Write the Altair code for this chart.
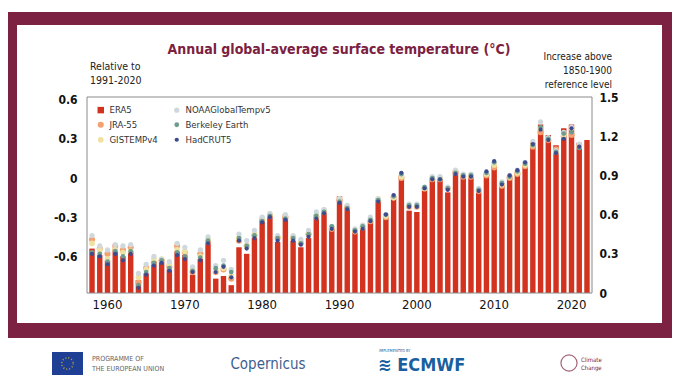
import altair as alt
import pandas as pd

# ---------------- data ----------------
years = list(range(1958, 2023))
era5 = [-0.54, -0.59, -0.63, -0.54, -0.60, -0.56, -0.78, -0.73, -0.64, -0.64,
        -0.70, -0.56, -0.59, -0.74, -0.62, -0.50, -0.77, -0.75, -0.82, -0.53,
        -0.58, -0.46, -0.31, -0.28, -0.49, -0.28, -0.48, -0.53, -0.46, -0.28,
        -0.25, -0.39, -0.14, -0.21, -0.42, -0.39, -0.34, -0.16, -0.31, -0.16,
        0.02, -0.25, -0.26, -0.09, 0.00, -0.01, -0.11, 0.06, 0.02, 0.02,
        -0.11, 0.04, 0.10, -0.04, 0.02, 0.05, 0.10, 0.27, 0.41, 0.33,
        0.25, 0.38, 0.41, 0.27, 0.29]
jra55 = [-0.47, -0.54, -0.58, -0.52, -0.55, -0.53, -0.80, -0.69, -0.65, -0.63,
         -0.68, -0.52, -0.57, -0.72, -0.58, -0.49, -0.72, -0.70, -0.77, -0.48,
         -0.52, -0.44, -0.32, -0.29, -0.46, -0.30, -0.46, -0.50, -0.43, -0.30,
         -0.26, -0.39, -0.17, -0.23, -0.41, -0.38, -0.33, -0.17, -0.30, -0.15,
         0.00, -0.22, -0.22, -0.08, -0.01, -0.01, -0.08, 0.04, 0.01, 0.01,
         -0.10, 0.02, 0.08, -0.06, 0.00, 0.03, 0.09, 0.24, 0.35, 0.29,
         0.22, 0.32, 0.33, 0.25, None]
gistemp = [-0.50, -0.55, -0.62, -0.55, -0.57, -0.56, -0.76, -0.70, -0.62, -0.62,
           -0.66, -0.55, -0.56, -0.69, -0.60, -0.47, -0.71, -0.69, -0.75, -0.46,
           -0.52, -0.43, -0.31, -0.28, -0.45, -0.29, -0.46, -0.49, -0.42, -0.29,
           -0.25, -0.38, -0.16, -0.22, -0.40, -0.37, -0.32, -0.16, -0.29, -0.15,
           0.01, -0.21, -0.21, -0.08, 0.00, 0.00, -0.08, 0.05, 0.02, 0.02,
           -0.09, 0.03, 0.10, -0.05, 0.01, 0.04, 0.10, 0.25, 0.38, 0.30,
           0.20, 0.33, 0.38, 0.24, None]
noaa = [-0.44, -0.52, -0.55, -0.51, -0.52, -0.51, -0.73, -0.66, -0.60, -0.62,
        -0.64, -0.50, -0.53, -0.68, -0.55, -0.45, -0.67, -0.63, -0.70, -0.43,
        -0.48, -0.40, -0.30, -0.27, -0.44, -0.28, -0.44, -0.47, -0.40, -0.26,
        -0.24, -0.37, -0.16, -0.21, -0.39, -0.36, -0.30, -0.16, -0.28, -0.14,
        0.03, -0.20, -0.20, -0.07, 0.01, 0.01, -0.07, 0.06, 0.03, 0.03,
        -0.08, 0.04, 0.12, -0.03, 0.02, 0.06, 0.12, 0.28, 0.43, 0.31,
        0.21, 0.35, 0.39, 0.26, None]
berkeley = [-0.57, -0.58, -0.64, -0.56, -0.60, -0.56, -0.82, -0.72, -0.65, -0.63,
            -0.69, -0.57, -0.60, -0.71, -0.61, -0.48, -0.69, -0.67, -0.72, -0.46,
            -0.52, -0.44, -0.33, -0.29, -0.46, -0.31, -0.46, -0.50, -0.43, -0.29,
            -0.26, -0.37, -0.18, -0.23, -0.40, -0.37, -0.32, -0.17, -0.28, -0.14,
            0.03, -0.21, -0.21, -0.07, 0.00, -0.01, -0.08, 0.04, 0.02, 0.02,
            -0.09, 0.04, 0.12, -0.04, 0.01, 0.05, 0.11, 0.25, 0.39, 0.30,
            0.20, 0.34, 0.35, 0.23, None]
hadcrut = [-0.58, -0.60, -0.66, -0.58, -0.63, -0.58, -0.84, -0.74, -0.67, -0.65,
           -0.71, -0.59, -0.62, -0.72, -0.63, -0.50, -0.72, -0.68, -0.76, -0.48,
           -0.54, -0.46, -0.34, -0.30, -0.48, -0.32, -0.48, -0.51, -0.45, -0.31,
           -0.27, -0.39, -0.19, -0.24, -0.41, -0.39, -0.33, -0.18, -0.28, -0.13,
           0.04, -0.22, -0.22, -0.08, -0.01, -0.01, -0.09, 0.03, 0.01, 0.01,
           -0.10, 0.05, 0.13, -0.05, 0.02, 0.06, 0.12, 0.26, 0.37, 0.29,
           0.19, 0.30, 0.38, 0.24, None]

x_labels = [1960, 1970, 1980, 1990, 2000, 2010, 2020]
left_ticks = [-0.6, -0.3, 0, 0.3, 0.6]
right_ticks = [0, 0.3, 0.6, 0.9, 1.2, 1.5]

legend_order = ["ERA5", "JRA-55", "GISTEMPv4", "NOAAGlobalTempv5",
                "Berkeley Earth", "HadCRUT5"]
legend_colors = ["#d3321f", "#f4a070", "#efe2a0", "#cfd9dd", "#6d9c8f", "#3d4b8e"]
legend_shapes = ["square", "circle", "circle", "circle", "circle", "circle"]
legend_sizes = [42, 18, 18, 18, 18, 18]

# ---------------- tables ----------------
df_bars = pd.DataFrame({"year": years, "value": era5})
series = {"JRA-55": jra55, "GISTEMPv4": gistemp, "NOAAGlobalTempv5": noaa,
          "Berkeley Earth": berkeley, "HadCRUT5": hadcrut}
rows = []
for name, vals in series.items():
    for y, v in zip(years, vals):
        if v is not None:
            rows.append({"year": y, "value": v, "dataset": name})
df_pts = pd.DataFrame(rows)
one = pd.DataFrame({"k": [0]})

FONT = "'DejaVu Sans Condensed', 'Roboto', sans-serif"
MAROON = "#7c2141"
W, H = 505, 196
LMIN, LMAX = -0.88, 0.62
HYPHEN_EXPR = "replace(format(datum.value, '.1~f'), '\u2212', '-')"

x_enc = alt.X("year:O",
              scale=alt.Scale(paddingInner=0.3, paddingOuter=0.3),
              axis=alt.Axis(title=None, values=x_labels, labelAngle=0,
                            labelFontSize=13, labelColor="#111", labelFont=FONT,
                            labelPadding=5, ticks=False, domain=False,
                            labelOverlap=False, zindex=2))
y_left = alt.Y("value:Q",
               scale=alt.Scale(domain=[LMIN, LMAX], nice=False, zero=False),
               axis=alt.Axis(title=None, values=left_ticks, labelExpr=HYPHEN_EXPR,
                             ticks=False, domain=False, grid=False,
                             labelFontSize=12, labelFontWeight="bold",
                             labelColor="#111", labelFont=FONT, labelPadding=10,
                             zindex=2))

bars = alt.Chart(df_bars).mark_bar(color=legend_colors[0]).encode(
    x=x_enc, y=y_left, y2=alt.Y2Datum(LMIN))

leg = dict(title=None, orient="none", legendX=9, legendY=8, columns=2,
           labelFont=FONT, labelFontSize=9.5, labelColor="#333",
           rowPadding=4, columnPadding=14, symbolStrokeWidth=0, zindex=2)
points = alt.Chart(df_pts).mark_point(filled=True, opacity=1).encode(
    x=x_enc, y=y_left,
    color=alt.Color("dataset:N", scale=alt.Scale(domain=legend_order, range=legend_colors),
                    legend=alt.Legend(**leg)),
    shape=alt.Shape("dataset:N", scale=alt.Scale(domain=legend_order, range=legend_shapes),
                    legend=alt.Legend(**leg)),
    size=alt.Size("dataset:N", scale=alt.Scale(domain=legend_order, range=legend_sizes),
                  legend=alt.Legend(**leg)),
)

right = alt.Chart(pd.DataFrame({"r": right_ticks})).mark_point(opacity=0).encode(
    y=alt.Y("r:Q", scale=alt.Scale(domain=[0, 1.5], nice=False),
            axis=alt.Axis(title=None, orient="right", values=right_ticks,
                          format=".1~f", ticks=False, domain=False, grid=False,
                          labelFontSize=12, labelFontWeight="bold", labelColor="#111",
                          labelFont=FONT, labelPadding=7, zindex=2)))

# decorative frame (pixel positions relative to the plot area)
frame = alt.Chart(one).mark_rect(color=MAROON).encode(
    x=alt.value(-84), x2=alt.value(590), y=alt.value(-85), y2=alt.value(241))
inner = alt.Chart(one).mark_rect(color="white").encode(
    x=alt.value(-70), x2=alt.value(575), y=alt.value(-72), y2=alt.value(226))
border = alt.Chart(one).mark_rect(fill=None, stroke="#8a8a8a", strokeWidth=1).encode(
    x=alt.value(0), x2=alt.value(W), y=alt.value(0), y2=alt.value(H))

title = alt.Chart(one).mark_text(
    text="Annual global-average surface temperature (°C)", font=FONT,
    fontSize=14, fontWeight="bold", color=MAROON, align="center",
    baseline="middle").encode(x=alt.value(252), y=alt.value(-47))
rel = alt.Chart(one).mark_text(
    text=["Relative to", "1991-2020"], font=FONT, fontSize=10.5, color="#222",
    align="left", baseline="middle", lineHeight=14).encode(
    x=alt.value(3), y=alt.value(-30))
inc = alt.Chart(one).mark_text(
    text=["Increase above", "1850-1900", "reference level"], font=FONT,
    fontSize=10, color="#222", align="right", baseline="middle",
    lineHeight=14).encode(x=alt.value(525), y=alt.value(-40))

# footer logos (approximated with text and simple shapes)
eu_flag = alt.Chart(one).mark_rect(color="#1f3f94").encode(
    x=alt.value(-35), x2=alt.value(-4), y=alt.value(255), y2=alt.value(278))
eu_stars = alt.Chart(one).mark_point(color="#ffd400", size=130, strokeWidth=1.5,
                                     strokeDash=[1, 2]).encode(
    x=alt.value(-19.5), y=alt.value(266.5))
eu_text = alt.Chart(one).mark_text(
    text=["PROGRAMME OF", "THE EUROPEAN UNION"], font=FONT, fontSize=7,
    color="#666", align="left", baseline="middle", lineHeight=10).encode(
    x=alt.value(5), y=alt.value(262))
cop = alt.Chart(one).mark_text(
    text="Copernicus", font=FONT, fontSize=15, color="#3f5f8e",
    align="center", baseline="middle").encode(x=alt.value(181), y=alt.value(267))
impl = alt.Chart(one).mark_text(
    text="IMPLEMENTED BY", font=FONT, fontSize=4, color="#1a5f9e",
    align="left", baseline="middle").encode(x=alt.value(292), y=alt.value(254))
ecmwf = alt.Chart(one).mark_text(
    text="\u224b ECMWF", font=FONT, fontSize=18, fontWeight="bold", color="#1a5f9e",
    align="left", baseline="middle").encode(x=alt.value(291), y=alt.value(269))
cc_ring = alt.Chart(one).mark_point(color=MAROON, size=260, strokeWidth=1.2).encode(
    x=alt.value(482), y=alt.value(266))
cc_text = alt.Chart(one).mark_text(
    text=["Climate", "Change"], font=FONT, fontSize=6, color=MAROON,
    align="left", baseline="middle", lineHeight=8).encode(
    x=alt.value(494), y=alt.value(263))

data_layer = alt.layer(bars, points)
chart = alt.layer(
    frame, inner, data_layer, border, right, title, rel, inc,
    eu_flag, eu_stars, eu_text, cop, impl, ecmwf, cc_ring, cc_text
).resolve_scale(y="independent").properties(
    width=W, height=H,
    autosize=alt.AutoSizeParams(type="none"),
    padding={"left": 79, "top": 89, "right": 80, "bottom": 83},
    background="white",
).configure_view(stroke=None)

chart.save("out.html", embed_options={"renderer": "svg", "actions": False})
